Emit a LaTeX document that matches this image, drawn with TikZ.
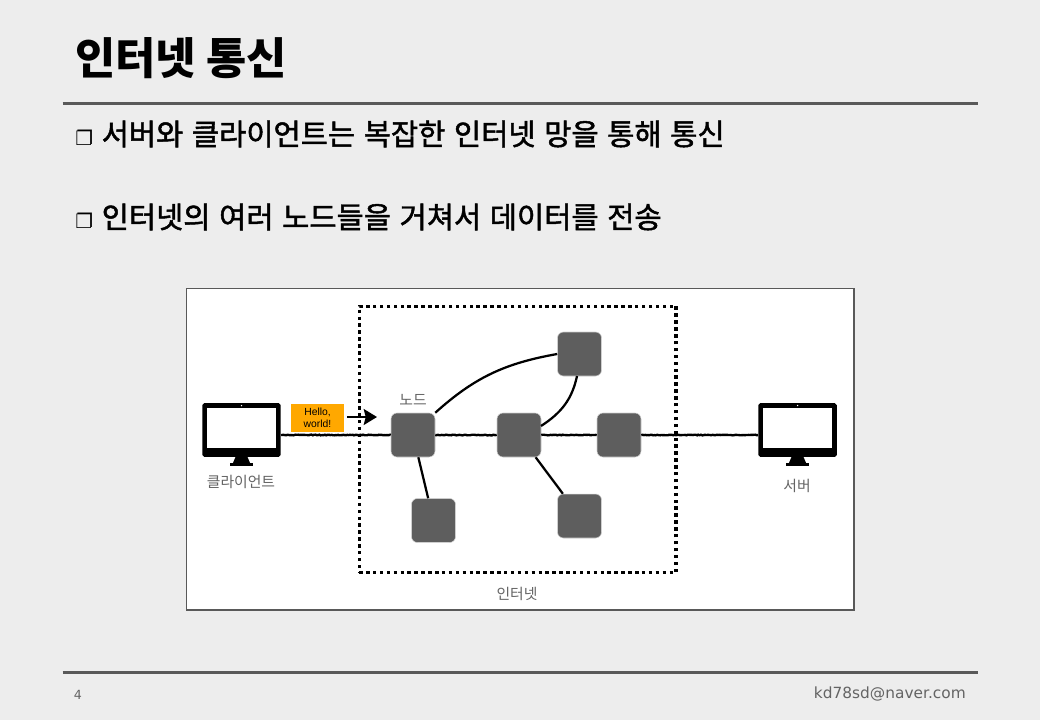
\documentclass[tikz,border=0pt]{standalone}
\usepackage{fontspec}
\setmainfont{Noto Sans CJK KR}
\newfontfamily\midfont[FakeBold=1.6,WordSpace=1.3]{Noto Sans CJK KR}
\newfontfamily\latinfont{Liberation Sans}
\newfontfamily\mailfont{DejaVu Sans}
\usetikzlibrary{arrows.meta,decorations.pathmorphing}
\definecolor{pagecol}{RGB}{237,237,237}
\definecolor{rulecol}{RGB}{89,89,89}
\definecolor{nodecol}{RGB}{94,94,94}
\definecolor{labelcol}{RGB}{100,100,100}
\definecolor{hellocol}{RGB}{255,168,0}
\tikzset{every picture/.style={x=.0265cm,y=.0265cm}}
\tikzset{rulestroke/.style={rulecol,line width=2.25pt}}
\tikzset{headline/.style={anchor=west,inner sep=0,font=\fontsize{33}{33}\selectfont\bfseries}}
\tikzset{bullet/.style={anchor=west,inner sep=0,font=\midfont\fontsize{22.3}{23}\selectfont}}
\tikzset{tag/.style={labelcol,inner sep=0,font=\fontsize{11.2}{13}\selectfont}}
\tikzset{hop/.style={draw=white!70!nodecol,line width=.4pt,fill=nodecol,rounded corners=4.5pt,minimum size=1.166cm,inner sep=0}}
\tikzset{body/.style={fill=black,rounded corners=1.5pt,minimum width=2.08cm,minimum height=1.43cm,inner sep=0}}
\tikzset{screen/.style={fill=white,minimum width=1.83cm,minimum height=1.06cm,inner sep=0}}
\tikzset{foot/.style={fill=black,inner sep=0,minimum width=.6cm,minimum height=.07cm,anchor=south}}
\tikzset{wire/.style={black,line width=1.7pt}}
\tikzset{rough/.style={wire,line width=1.8pt,decorate,decoration={random steps,segment length=1pt,amplitude=.25pt}}}

\begin{document}
\begin{tikzpicture}
\useasboundingbox [fill=pagecol] (0,0) rectangle (1040,-720);

\coordinate (r1) at (62.5,-103.5);
\coordinate (r2) at (978,-103.5);
\coordinate (r3) at (62.5,-672.5);
\coordinate (r4) at (978,-672.5);
\draw [rulestroke] (r1) -- (r2);
\draw [rulestroke] (r3) -- (r4);

\node [headline] (title) at (75,-58) {인터넷 통신};
\node [bullet] (b1) at (75,-134) {{\mailfont\fontsize{15}{15}\selectfont ❐}\hspace{6.5pt}서버와 클라이언트는 복잡한 인터넷 망을 통해 통신};
\node [bullet] (b2) at (75,-217) {{\mailfont\fontsize{15}{15}\selectfont ❐}\hspace{6.5pt}인터넷의 여러 노드들을 거쳐서 데이터를 전송};

\node [draw=rulecol,line width=1.1pt,fill=white,anchor=north west,minimum width=17.7cm,minimum height=8.53cm,inner sep=0] (frame) at (185.5,-287.5) {};
\node [draw=black,line width=2.6pt,dash pattern=on 2.6pt off 2.6pt,anchor=north west,minimum width=8.4cm,minimum height=7.05cm,inner sep=0] (net) at (357.5,-304.5) {};

\node [body] (cl) at (241.5,-430) {};
\node [screen] (cls) at (241.5,-428) {};
\node [fill=white,circle,inner sep=.4pt] (clc) at (241.5,-405.5) {};
\fill (235.5,-457) -- (247.5,-457) -- (250.5,-464) -- (232.5,-464) -- cycle;
\node [foot] (clb) at (241.5,-466) {};

\node [body] (sv) at (797.5,-430) {};
\node [screen] (svs) at (797.5,-428) {};
\node [fill=white,circle,inner sep=.4pt] (svc) at (797.5,-405.5) {};
\fill (791.5,-457) -- (803.5,-457) -- (806.5,-464) -- (788.5,-464) -- cycle;
\node [foot] (svb) at (797.5,-466) {};

\node [hop] (n1) at (413,-435) {};
\node [hop] (n2) at (519,-435) {};
\node [hop] (n3) at (619,-435) {};
\node [hop] (n4) at (579.5,-354) {};
\node [hop] (n5) at (579.5,-516) {};
\node [hop] (n6) at (433.5,-520.5) {};

\draw [rough] (n1 -| cl.east) -- (n1);
\draw [rough] (n1) -- (n2);
\draw [rough] (n2) -- (n3);
\draw [rough] (n3) -- (n3 -| sv.west);
\draw [wire] (n1) -- (n6);
\draw [wire] (n2) -- (n5);
\draw [wire] (n1.north east) to [out=42,in=190] (n4.west);
\coordinate (n2up) at (541,-426);
\coordinate (n4low) at (577,-376);
\draw [wire] (n2up) to [out=33,in=-102] (n4low);

\node [fill=hellocol,inner sep=0,minimum width=1.42cm,minimum height=.74cm,align=center,font=\latinfont\fontsize{7.8}{9}\selectfont] (hello) at (317.5,-418) {Hello,\\world!};
\coordinate (a1) at (347,-417);
\coordinate (a2) at (377,-417);
\draw [wire,-{Stealth[length=10pt,width=12pt,inset=1.5pt]}] (a1) -- (a2);

\node [tag] (nodetag) at (413,-400) {노드};
\node [tag] (cltag) at (241,-482) {클라이언트};
\node [tag] (svtag) at (797,-486) {서버};
\node [tag] (nettag) at (517,-594) {인터넷};

\node [labelcol,inner sep=0,font=\mailfont\fontsize{9.5}{10}\selectfont] (pagenum) at (78,-695) {4};
\node [labelcol,anchor=east,inner sep=0,font=\mailfont\fontsize{11.6}{12}\selectfont] (mail) at (966,-694) {kd78sd@naver.com};
\end{tikzpicture}
\end{document}
